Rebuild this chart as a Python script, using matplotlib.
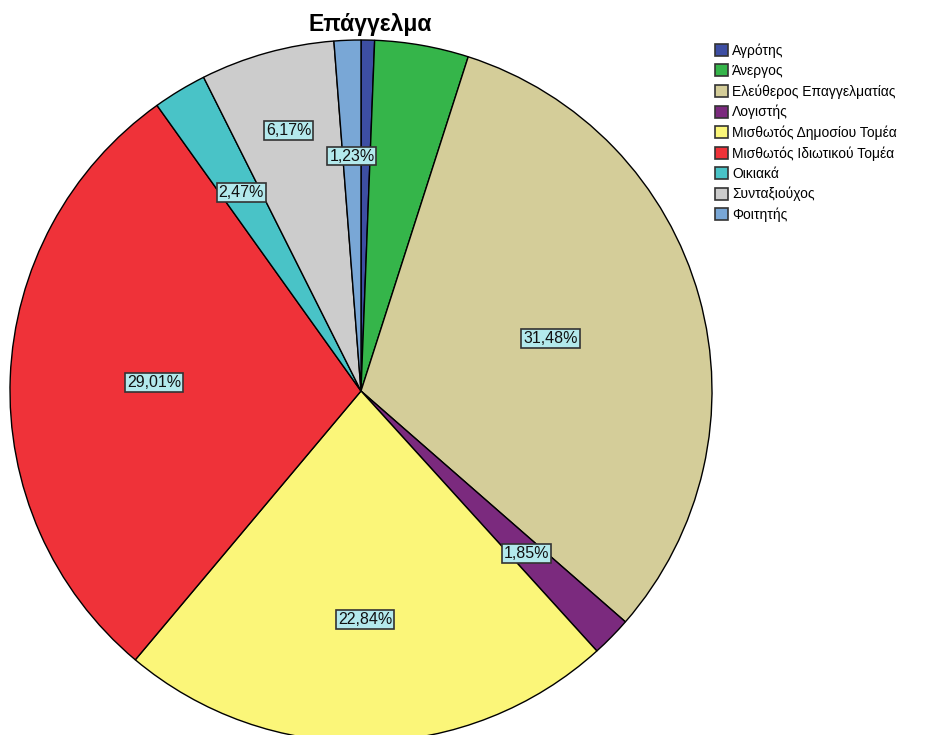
import numpy as np
import matplotlib
matplotlib.use('Agg')
import matplotlib.pyplot as plt

plt.rcParams['font.family'] = ['Liberation Sans', 'DejaVu Sans']

# occupation shares (percent of respondents)
jobs = ['Αγρότης', 'Άνεργος', 'Ελεύθερος Επαγγελματίας', 'Λογιστής',
        'Μισθωτός Δημοσίου Τομέα', 'Μισθωτός Ιδιωτικού Τομέα', 'Οικιακά',
        'Συνταξιούχος', 'Φοιτητής']
shares = [0.62, 4.32, 31.48, 1.85, 22.84, 29.01, 2.47, 6.17, 1.23]
shown = [False, False, True, True, True, True, True, True, True]
colors = ['#3d4ea3', '#35b54a', '#d4cd99', '#7b2a7e', '#fbf679',
          '#ef3239', '#49c3c7', '#cccccc', '#79a7d6']
# how far out each label sits (fraction of radius)
label_r = [0.6, 0.6, 0.56, 0.66, 0.65, 0.59, 0.66, 0.77, 0.67]

fig = plt.figure(figsize=(9.29, 7.35), dpi=100)
W, H = 929, 735
cx, cy, R = 361, 391, 351
ax = fig.add_axes([(cx - R) / W, (H - cy - R) / H, 2 * R / W, 2 * R / H])

wedges, _ = ax.pie(shares, colors=colors, startangle=90, counterclock=False,
                   radius=1, wedgeprops=dict(edgecolor='black', linewidth=1))
ax.set_xlim(-1, 1)
ax.set_ylim(-1, 1)
ax.axis('off')
for w in wedges:
    w.set_clip_on(False)

for w, v, s, r in zip(wedges, shares, shown, label_r):
    if not s:
        continue
    ang = np.deg2rad((w.theta1 + w.theta2) / 2)
    ax.text(r * np.cos(ang), r * np.sin(ang), f'{v:.2f}%'.replace('.', ','),
            ha='center', va='center', fontsize=11.5, color='#111111',
            bbox=dict(boxstyle='square,pad=0.12', facecolor='#b3e9ec',
                      edgecolor='#333333', linewidth=1.2))

fig.text(370 / W, 1 - 25 / H, 'Επάγγελμα', ha='center', va='center',
         fontsize=16.5, fontweight='bold')

leg = fig.legend(wedges, jobs, loc='upper left',
                 bbox_to_anchor=(709 / W, 1 - 38 / H), frameon=False,
                 fontsize=10, handlelength=0.95, handleheight=0.95,
                 handletextpad=0.3, labelspacing=0.44, borderaxespad=0)
for h in leg.legend_handles:
    h.set_edgecolor('#333333')
    h.set_linewidth(1.2)

fig.savefig('out.png', dpi=100)
